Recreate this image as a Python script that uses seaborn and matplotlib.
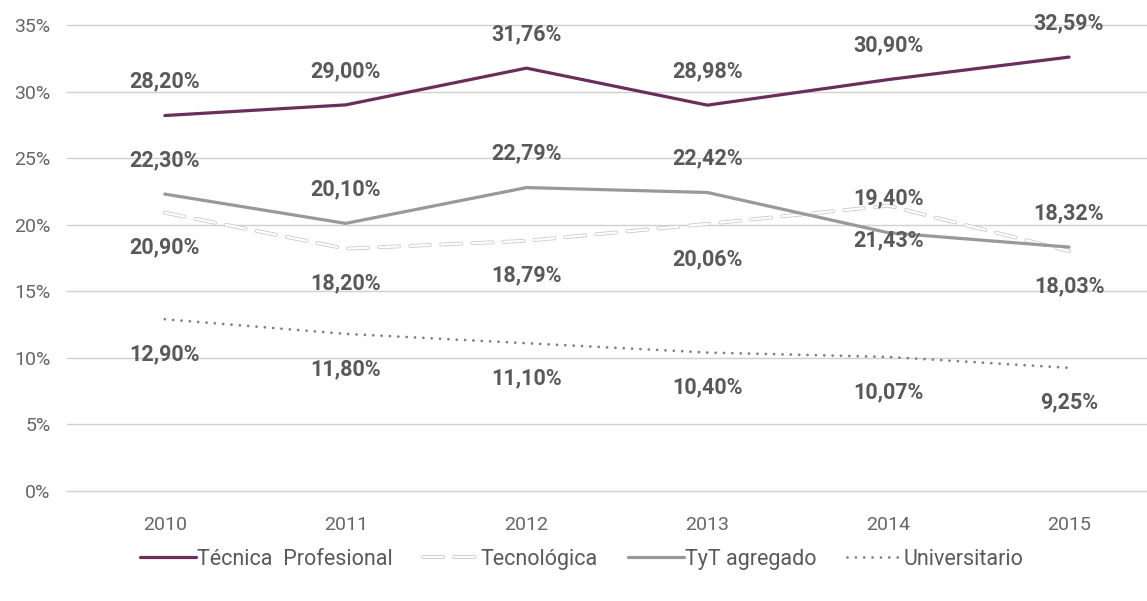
import matplotlib
matplotlib.use("Agg")
import matplotlib.pyplot as plt
import matplotlib.patheffects as pe
import seaborn as sns
import pandas as pd

years = ["2010", "2011", "2012", "2013", "2014", "2015"]
tecnica_profesional = [28.20, 29.00, 31.76, 28.98, 30.90, 32.59]
tecnologica = [20.90, 18.20, 18.79, 20.06, 21.43, 18.03]
tyt_agregado = [22.30, 20.10, 22.79, 22.42, 19.40, 18.32]
universitario = [12.90, 11.80, 11.10, 10.40, 10.07, 9.25]

series_names = ["Técnica  Profesional", "Tecnológica", "TyT agregado", "Universitario"]
series_values = [tecnica_profesional, tecnologica, tyt_agregado, universitario]

rows = []
for name, vals in zip(series_names, series_values):
    for i, (yr, v) in enumerate(zip(years, vals)):
        rows.append({"serie": name, "pos": i, "year": yr, "value": v})
df = pd.DataFrame(rows)

sns.set_theme(style="white")
plt.rcParams["font.family"] = ["Roboto", "DejaVu Sans"]

fig = plt.figure(figsize=(11.47, 6.01), dpi=100)
ax = fig.add_axes([67 / 1147, (601 - 491) / 601, 1 - 67 / 1147, (491 - 25) / 601])

styles = {
    "Técnica  Profesional": dict(color="#6A2E5A", lw=2.3, ls="-"),
    "Tecnológica": dict(color="white", lw=1.6, ls=(0, (9, 5))),
    "TyT agregado": dict(color="#999999", lw=2.3, ls="-"),
    "Universitario": dict(color="#7f7f7f", lw=2.0, ls=(0, (0.01, 3.0))),
}

for name in series_names:
    st = styles[name]
    sub = df[df.serie == name]
    line_kws = dict(color=st["color"], linewidth=st["lw"], linestyle=st["ls"],
                    dash_capstyle="round", solid_capstyle="round")
    if name == "Tecnológica":
        line_kws["path_effects"] = [pe.Stroke(linewidth=2.8, foreground="#d6c4ce"), pe.Normal()]
    sns.lineplot(data=sub, x="pos", y="value", ax=ax, label=name,
                 estimator=None, sort=False, **line_kws)

# value labels: two series labelled above their points, two below
above = {"Técnica  Profesional", "TyT agregado"}
for name, vals in zip(series_names, series_values):
    for i, v in enumerate(vals):
        dy = 34 if name in above else -35
        ax.annotate(f"{v:.2f}%".replace(".", ","), (i, v), xytext=(0, dy),
                    textcoords="offset pixels",
                    ha="center", va="center", fontsize=15.5, fontweight="bold",
                    color="#595959")

ax.set_xlim(-0.541, 5.431)
ax.set_ylim(0, 35)
ax.set_yticks(range(0, 36, 5))
ax.set_yticklabels([f"{t}%" for t in range(0, 36, 5)])
ax.set_xticks(range(len(years)))
ax.set_xticklabels(years)
ax.set_xlabel("")
ax.set_ylabel("")
ax.grid(axis="y", color="#d0d0d0", linewidth=1.0)
for gl in ax.get_ygridlines():
    gl.set_clip_on(False)
ax.set_axisbelow(True)
for s in ax.spines.values():
    s.set_visible(False)
ax.tick_params(axis="both", length=0, labelsize=14, labelcolor="#666666")
ax.tick_params(axis="y", pad=12)
ax.tick_params(axis="x", pad=18)

leg = ax.legend(loc="center", bbox_to_anchor=(0.5 - 67 / 1147 / 2 + 0.006, -0.146), ncol=4,
                frameon=False, fontsize=15.5, handlelength=2.6, handletextpad=0.05,
                columnspacing=1.4)
for t in leg.get_texts():
    t.set_color("#595959")

fig.savefig("out.png", dpi=100, facecolor="white")
